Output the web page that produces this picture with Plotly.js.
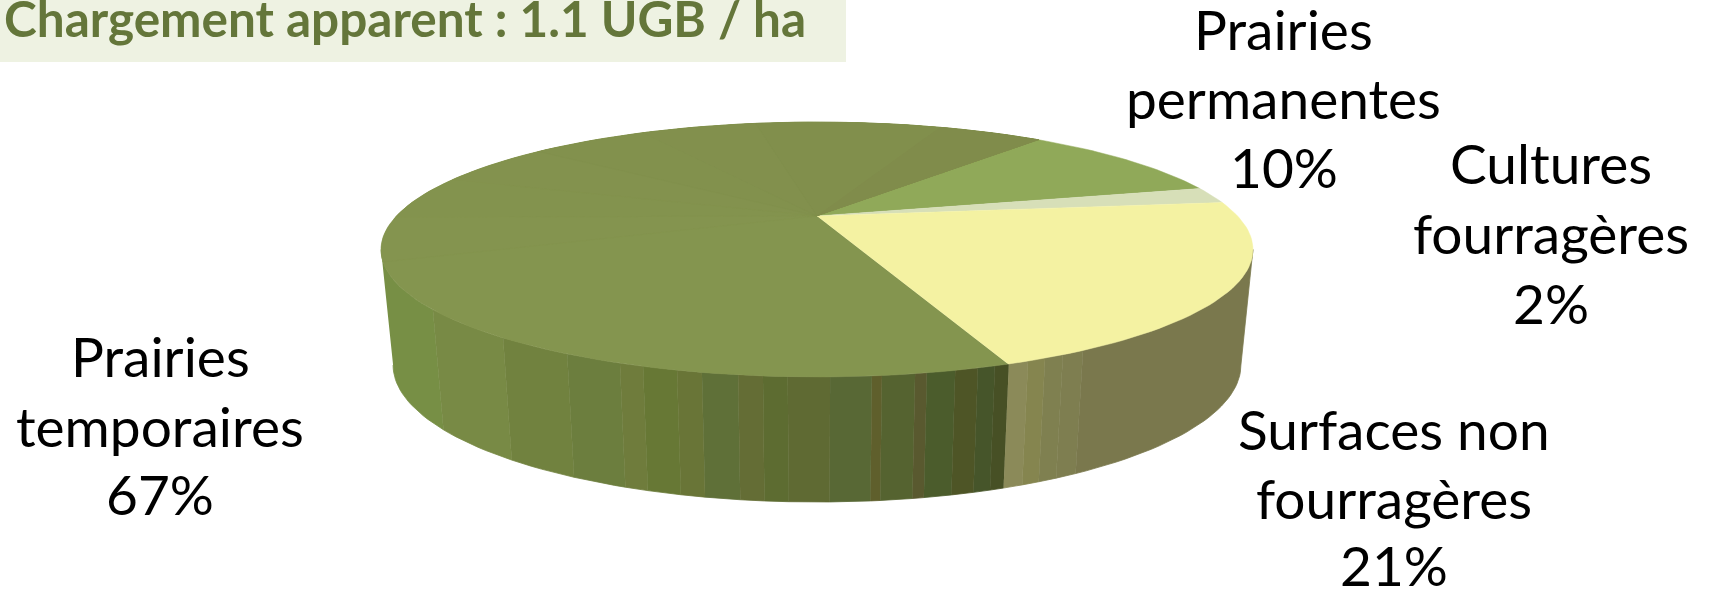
<!DOCTYPE html>
<html><head><meta charset="utf-8">
<script src="https://cdn.plot.ly/plotly-3.0.1.min.js"></script>
<style>html,body{margin:0;padding:0;background:#fff}#c{width:1710px;height:590px}</style>
</head><body><div id="c"></div>
<script>
// DATA
const categories = ['Prairies<br>temporaires','Prairies<br>permanentes','Cultures<br>fourragères','Surfaces non<br>fourragères'];
const shares = [66.5, 10.1, 2.1, 21.3]; // printed rounded: 67, 10, 2, 21
const chartTitle = 'Chargement apparent : 1.1 UGB / ha';

// STYLE
const topColors = ['#84954f','#90a959','#d7dfb8','#f4f2a2'];
const labelCentres = [[160,[356,425.5,494]],[1283.6,[28.5,98,167]],[1551,[162.7,232.5,303.4]],[1394,[429,497.5,565]]];
const startDeg = 160, tilt = 0.263;
const rimTop = {px:817, py:216, a:420.6, b:118.6};
const rimBottom = {px:817, py:329, a:409, b:127.5};
// wall shading: horizontal stop (in pie radii) and the shade to its left
const shadeStops = [-1.02,-0.881,-0.720,-0.573,-0.452,-0.399,-0.321,-0.264,-0.181,-0.124,-0.067,0.030,0.126,0.149,0.225,0.252,0.317,0.369,0.408,0.44,0.484,0.523,0.564,0.610,1.02];
const shadeColors = ['#778f45','#788a45','#71823f','#6c7e3e','#6f7c3c','#677835','#697537','#5f7038','#646d35','#5d6c31','#5f6a33','#586835','#5f5f2c','#556330','#59592f','#4b5c2c','#4e5526','#46552a','#475025','#8b8a59','#85854f','#7f8050','#7e7e50','#7a784d'];
// subtle darkening of the far part of the largest slice: sweep back from its end, colour
const farShades = [[150,'#84944f'],[130,'#83934e'],[110,'#83924e'],[90,'#82914d'],[70,'#82904d'],[50,'#818f4c'],[18,'#808c4b']];

const rad = d => d*Math.PI/180;
function rim(r, deg){
  const s = Math.sin(rad(deg)), c = Math.cos(rad(deg)), w = 1 + tilt*c;
  return [r.px + r.a*s/w, r.py - r.b*c/w];
}
function arc(r, d0, d1){
  const n = Math.max(2, Math.ceil(Math.abs(d1-d0)/1.5)), pts = [];
  for(let i=0;i<=n;i++) pts.push(rim(r, d0+(d1-d0)*i/n));
  return pts;
}
function poly(pts, color, lw){
  return {type:'scatter', mode:'lines', x:pts.map(p=>p[0]), y:pts.map(p=>p[1]),
    fill:'toself', fillcolor:color, line:{color:color,width:lw===undefined?0.8:lw}, hoverinfo:'skip', showlegend:false};
}
// silhouette angles of the rim
const sil = Math.acos(tilt)*180/Math.PI; // cos(deg) = -tilt at the widest points
const deg0 = 180 - sil, deg1 = 180 + sil;
function degAt(t){
  const target = t*436; let lo=deg0, hi=deg1;
  for(let i=0;i<40;i++){ const m=(lo+hi)/2; if(rim(rimTop,m)[0]-rimTop.px>target) lo=m; else hi=m; }
  return (lo+hi)/2;
}
const traces = [];
for(let i=0;i<shadeColors.length;i++){
  const d0 = degAt(shadeStops[i]), d1 = degAt(shadeStops[i+1]);
  traces.push(poly(arc(rimTop,d0,d1).concat(arc(rimBottom,d1,d0)), shadeColors[i]));
}
// top slices derived from the shares
const total = shares.reduce((a,b)=>a+b,0);
let cur = startDeg;
shares.forEach((v,i)=>{
  const sweep = v/total*360;
  traces.push(poly([[rimTop.px,rimTop.py]].concat(arc(rimTop,cur,cur+sweep)), topColors[i], 0.5));
  cur += sweep;
});
const endBig = startDeg + shares[0]/total*360;
farShades.forEach(f=>traces.push(poly([[rimTop.px,rimTop.py]].concat(arc(rimTop,endBig-f[0],endBig)), f[1], 0.2)));

const annotations = [];
categories.forEach((cat,i)=>{
  const lines = cat.split('<br>').concat([Math.round(shares[i])+'%']);
  lines.forEach((t,j)=>annotations.push({xref:'x',yref:'y',x:labelCentres[i][0],y:labelCentres[i][1][j],text:t,showarrow:false,
    xanchor:'center',yanchor:'middle',font:{family:'Lato',size:55,color:'#000'}}));
});
annotations.push({xref:'x',yref:'y',x:2,y:18,text:'<b>'+chartTitle+'</b>',showarrow:false,xanchor:'left',yanchor:'middle',
  font:{family:'Lato',size:49.5,color:'#64763a'}});

const layout = {width:1710,height:590,margin:{l:0,r:0,t:0,b:0},paper_bgcolor:'#fff',plot_bgcolor:'#fff',showlegend:false,
  xaxis:{range:[0,1710],visible:false,fixedrange:true},
  yaxis:{range:[590,0],visible:false,fixedrange:true},
  shapes:[{type:'rect',xref:'x',yref:'y',x0:0,x1:846,y0:0,y1:62,fillcolor:'#eef2e2',line:{width:0},layer:'below'}],
  annotations};
Plotly.newPlot('c',traces,layout,{displayModeBar:false,staticPlot:true});
</script></body></html>
